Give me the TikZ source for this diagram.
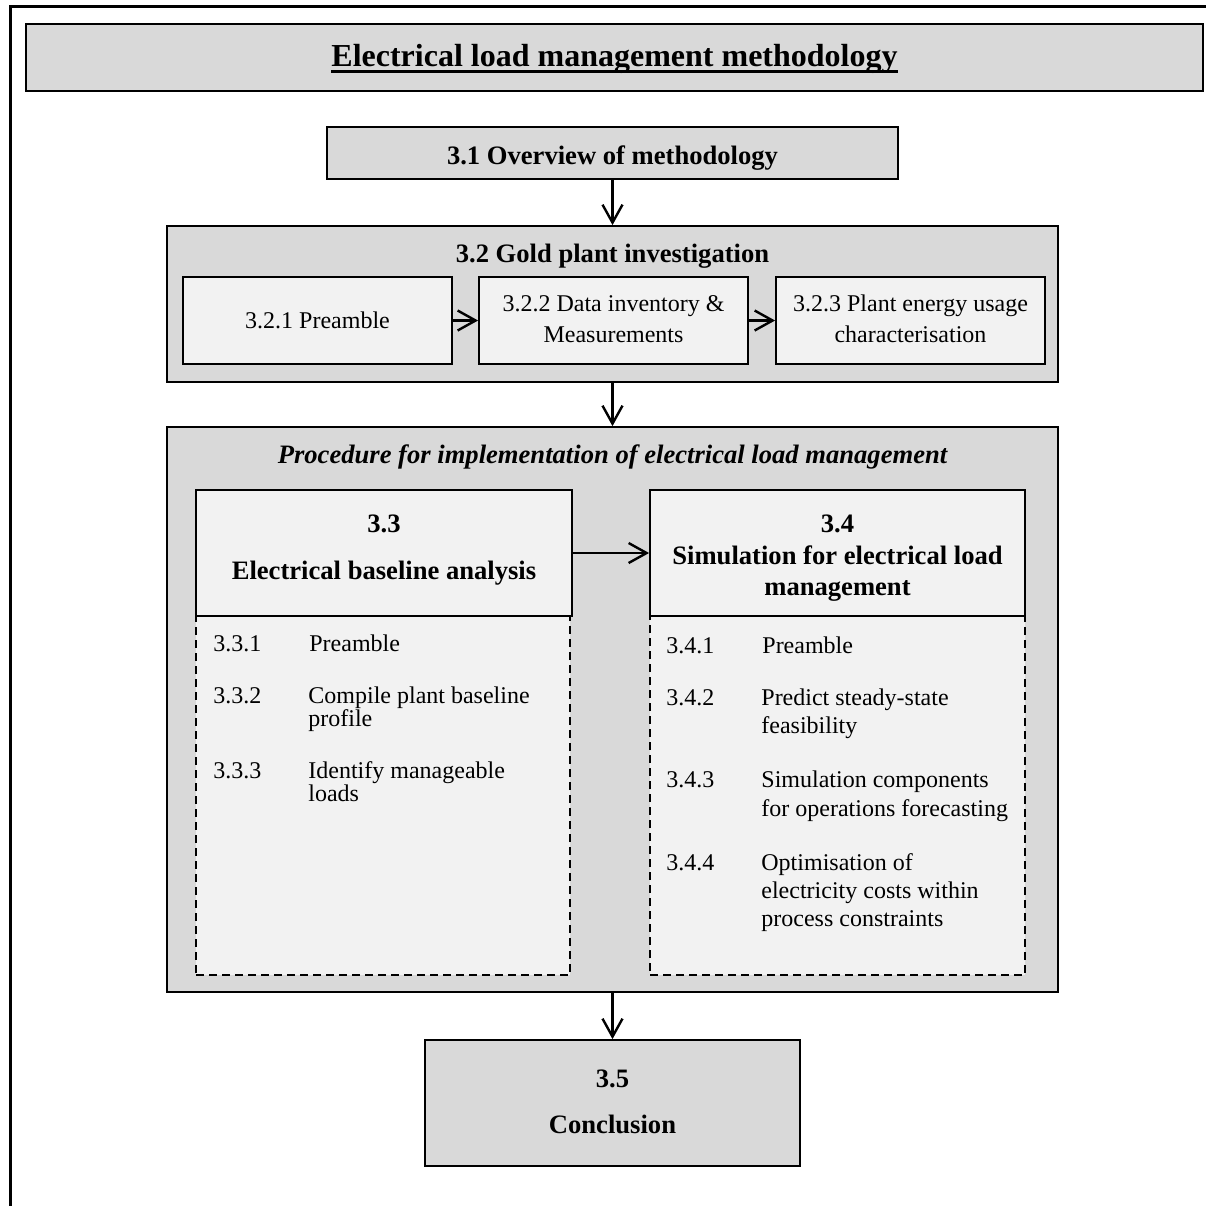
\documentclass[tikz,border=0pt]{standalone}
\usepackage{fontspec}
\setmainfont{Liberation Serif}
\usetikzlibrary{arrows.meta}
\definecolor{boxgray}{HTML}{D9D9D9}
\definecolor{panelgray}{HTML}{F2F2F2}
\begin{document}
\begin{tikzpicture}[x=0.5pt,y=-0.5pt,
  frame/.style={draw=black, line width=0.9pt, inner sep=0pt},
  darkbox/.style={frame, fill=boxgray},
  lightbox/.style={frame, fill=panelgray},
  listbox/.style={draw=black, line width=0.9pt, dash pattern=on 4pt off 2.5pt, fill=panelgray, inner sep=0pt},
  arr/.style={-{Straight Barb[length=9pt,width=10pt]}, line width=1.2pt},
  head/.style={font=\fontsize{13.3}{16}\selectfont\bfseries, inner sep=0pt, anchor=base},
  body/.style={font=\fontsize{12}{14}\selectfont, inner sep=0pt, anchor=base},
  item/.style={body, anchor=base west},
]
\useasboundingbox (0,0) rectangle (1206,1206);
\fill[white] (0,0) rectangle (1206,1206);

% page frame (open to the right and bottom)
\draw[line width=1.5pt] (10,1206) -- (10,6) -- (1206,6);

% title banner
\node[darkbox, minimum width=588.5pt, minimum height=33.5pt] (title) at (614.5,57.5) {};
\node[font=\fontsize{16}{19}\selectfont\bfseries, inner sep=0pt, anchor=base] (titletext) at (614.5,66)
  {Electrical load management methodology};
\draw[line width=1.4pt] ([yshift=-2.6pt]titletext.base west) -- ([yshift=-2.6pt]titletext.base east);

% 3.1
\node[darkbox, minimum width=285.5pt, minimum height=26pt] (s31) at (612.5,153) {};
\node[head] (s31t) at (612.5,164) {3.1 Overview of methodology};

% 3.2 with its three steps
\node[darkbox, minimum width=445.5pt, minimum height=78pt] (s32) at (612.5,304) {};
\node[head] (s32t) at (612.5,262) {3.2 Gold plant investigation};
\node[lightbox, minimum width=134.5pt, minimum height=43.5pt] (s321) at (317.5,320.5) {};
\node[lightbox, minimum width=134.5pt, minimum height=43.5pt] (s322) at (613.5,320.5) {};
\node[lightbox, minimum width=134.5pt, minimum height=43.5pt] (s323) at (910.5,320.5) {};
\node[body] (s321t) at (317.5,328) {3.2.1 Preamble};
\node[body] (s322a) at (613.5,311) {3.2.2 Data inventory \&};
\node[body] (s322b) at (613.5,342) {Measurements};
\node[body] (s323a) at (910.5,311) {3.2.3 Plant energy usage};
\node[body] (s323b) at (910.5,342) {characterisation};

% procedure panel
\node[darkbox, minimum width=445.5pt, minimum height=282.5pt] (proc) at (612.5,709.5) {};
\node[head, font=\fontsize{13.3}{16}\selectfont\bfseries\itshape] (proct) at (612.5,463)
  {Procedure for implementation of electrical load management};

% 3.3
\node[listbox, minimum width=187pt, minimum height=179.5pt] (s33l) at (383,795.5) {};
\node[lightbox, minimum width=188pt, minimum height=63pt] (s33h) at (384,553) {};
\node[head] (s33a) at (384,532) {3.3};
\node[head] (s33b) at (384,579) {Electrical baseline analysis};
\node[item] (n331) at (213,651) {3.3.1};
\node[item] (t331) at (309,651) {Preamble};
\node[item] (n332) at (213,703) {3.3.2};
\node[item] (t332a) at (308,703) {Compile plant baseline};
\node[item] (t332b) at (308,726) {profile};
\node[item] (n333) at (213,778) {3.3.3};
\node[item] (t333a) at (308,778) {Identify manageable};
\node[item] (t333b) at (308,801) {loads};

% 3.4
\node[listbox, minimum width=187.5pt, minimum height=179.5pt] (s34l) at (837.5,795.5) {};
\node[lightbox, minimum width=187.5pt, minimum height=63pt] (s34h) at (837.5,553) {};
\node[head] (s34a) at (837.5,532) {3.4};
\node[head] (s34b) at (837.5,564) {Simulation for electrical load};
\node[head] (s34c) at (837.5,595) {management};
\node[item] (n341) at (666,653) {3.4.1};
\node[item] (t341) at (762,653) {Preamble};
\node[item] (n342) at (666,705) {3.4.2};
\node[item] (t342a) at (761,705) {Predict steady-state};
\node[item] (t342b) at (761,733) {feasibility};
\node[item] (n343) at (666,787) {3.4.3};
\node[item] (t343a) at (761,787) {Simulation components};
\node[item] (t343b) at (761,816) {for operations forecasting};
\node[item] (n344) at (666,870) {3.4.4};
\node[item] (t344a) at (761,870) {Optimisation of};
\node[item] (t344b) at (761,898) {electricity costs within};
\node[item] (t344c) at (761,926) {process constraints};

% 3.5
\node[darkbox, minimum width=187.5pt, minimum height=63pt] (s35) at (612.5,1103) {};
\node[head] (s35a) at (612.5,1087) {3.5};
\node[head] (s35b) at (612.5,1133) {Conclusion};

% connectors
\draw[arr] (s31) -- (s32);
\draw[arr] (s321) -- (s322);
\draw[arr] (s322) -- (s323);
\draw[arr] (s32) -- (proc);
\draw[arr] (s33h) -- (s34h);
\draw[arr] (proc) -- (s35);
\end{tikzpicture}
\end{document}
